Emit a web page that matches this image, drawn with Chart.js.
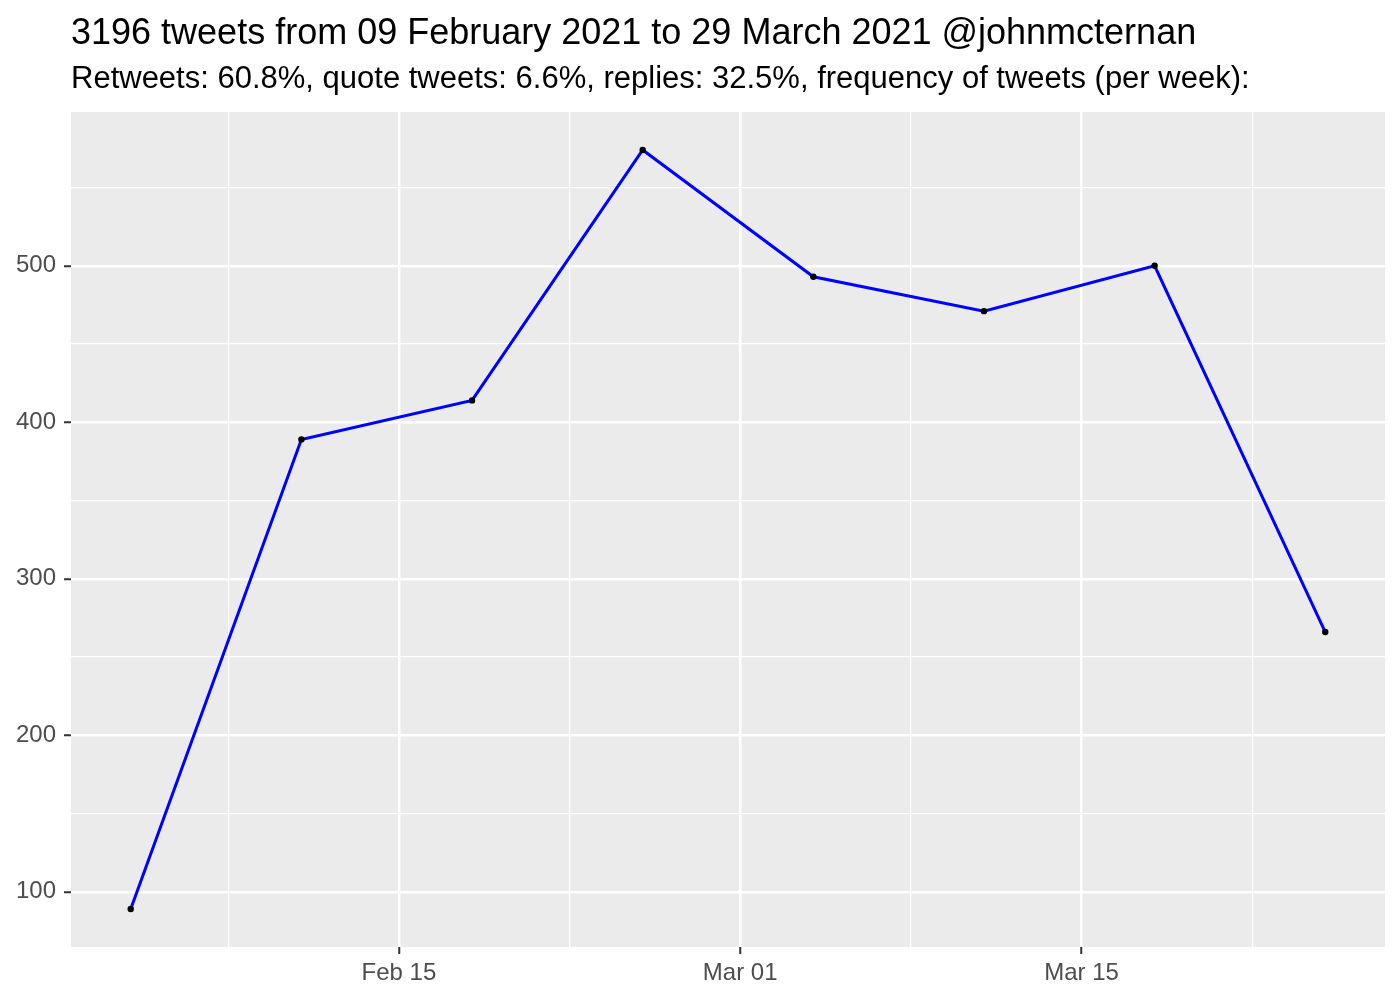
<!DOCTYPE html>
<html>
<head>
<meta charset="utf-8">
<script src="https://cdn.jsdelivr.net/npm/chart.js@4.4.1/dist/chart.umd.min.js"></script>
<style>
  html, body { margin: 0; padding: 0; background: #fff; }
</style>
</head>
<body>
<canvas id="myCanvas" width="1400" height="1000"></canvas>
<script>
var titleText = "3196 tweets from 09 February 2021 to 29 March 2021 @johnmcternan";
var subtitleText = "Retweets: 60.8%, quote tweets: 6.6%, replies: 32.5%, frequency of tweets (per week):";

// weekly tweet counts
var weeks = ["2021-02-04", "2021-02-11", "2021-02-18", "2021-02-25",
             "2021-03-04", "2021-03-11", "2021-03-18", "2021-03-25"];
var tweets = [89, 389, 414, 574, 493, 471, 500, 266];

// axis ticks
var xMajorDates = ["2021-02-15", "2021-03-01", "2021-03-15"];
var xMajorLabels = ["Feb 15", "Mar 01", "Mar 15"];
var xMinorDates = ["2021-02-08", "2021-02-22", "2021-03-08", "2021-03-22"];
var yMajor = [100, 200, 300, 400, 500];
var yMinor = [150, 250, 350, 450, 550];

function dayNum(s) {
  return (Date.parse(s) - Date.parse("2021-01-31")) / 86400000;
}

var points = [];
for (var i in weeks) {
  points.push({ x: dayNum(weeks[i]), y: tweets[i] });
}

var xMajor = xMajorDates.map(dayNum);
var xMinor = xMinorDates.map(dayNum);

// ggplot style 5% expansion
var xs = points.map(function (p) { return p.x; });
var xLo = Math.min.apply(null, xs), xHi = Math.max.apply(null, xs);
var yLo = Math.min.apply(null, tweets), yHi = Math.max.apply(null, tweets);
var xPad = (xHi - xLo) * 0.05, yPad = (yHi - yLo) * 0.05;

var panelBg = {
  id: "panelBg",
  beforeDraw: function (chart) {
    var a = chart.chartArea, c = chart.ctx;
    c.save();
    c.fillStyle = "#EBEBEB";
    c.fillRect(a.left, a.top, a.right - a.left, a.bottom - a.top);
    c.restore();
  }
};

var titles = {
  id: "titles",
  afterDraw: function (chart) {
    var c = chart.ctx, left = chart.chartArea.left;
    c.save();
    c.fillStyle = "#000";
    c.textAlign = "left";
    c.textBaseline = "alphabetic";
    c.font = '36px "Liberation Sans", Arial, sans-serif';
    c.fillText(titleText, left, 44);
    c.font = '31px "Liberation Sans", Arial, sans-serif';
    c.fillText(subtitleText, left, 88);
    c.restore();
  }
};

function isIn(arr, v) {
  for (var k = 0; k < arr.length; k++) if (Math.abs(arr[k] - v) < 1e-6) return k;
  return -1;
}

var ctx = document.getElementById("myCanvas");

var chart = new Chart(ctx, {
  type: "line",
  data: {
    datasets: [
      {
        data: points,
        borderColor: "#0000FF",
        borderWidth: 3,
        tension: 0,
        fill: false,
        pointRadius: 3.2,
        pointBackgroundColor: "#000",
        pointBorderWidth: 0
      }
    ]
  },
  options: {
    responsive: false,
    animation: false,
    devicePixelRatio: 1,
    layout: { padding: { top: 112, right: 15, left: 0, bottom: 0 } },
    plugins: {
      legend: { display: false },
      tooltip: { enabled: false }
    },
    scales: {
      x: {
        type: "linear",
        min: xLo - xPad,
        max: xHi + xPad,
        afterFit: function (scale) { scale.height = 53; },
        afterBuildTicks: function (scale) {
          scale.ticks = xMajor.concat(xMinor).sort(function (a, b) { return a - b; })
            .map(function (v) { return { value: v }; });
        },
        border: { display: false },
        grid: {
          color: "#FFFFFF",
          lineWidth: function (c) { return isIn(xMajor, c.tick.value) >= 0 ? 2.5 : 1.2; },
          tickColor: function (c) { return isIn(xMajor, c.tick.value) >= 0 ? "#333333" : "rgba(0,0,0,0)"; },
          tickLength: 7,
          tickWidth: 2
        },
        ticks: {
          autoSkip: false,
          maxRotation: 0,
          padding: 5,
          color: "#4D4D4D",
          font: { family: "Liberation Sans", size: 24 },
          callback: function (v) {
            var k = isIn(xMajor, v);
            return k >= 0 ? xMajorLabels[k] : "";
          }
        }
      },
      y: {
        type: "linear",
        min: yLo - yPad,
        max: yHi + yPad,
        afterFit: function (scale) { scale.width = 71; },
        afterBuildTicks: function (scale) {
          scale.ticks = yMajor.concat(yMinor).sort(function (a, b) { return a - b; })
            .map(function (v) { return { value: v }; });
        },
        border: { display: false },
        grid: {
          color: "#FFFFFF",
          lineWidth: function (c) { return isIn(yMajor, c.tick.value) >= 0 ? 2.5 : 1.2; },
          tickColor: function (c) { return isIn(yMajor, c.tick.value) >= 0 ? "#333333" : "rgba(0,0,0,0)"; },
          tickLength: 7,
          tickWidth: 2
        },
        ticks: {
          autoSkip: false,
          padding: 8,
          color: "#4D4D4D",
          font: { family: "Liberation Sans", size: 24 },
          callback: function (v) {
            return isIn(yMajor, v) >= 0 ? String(v) : "";
          }
        }
      }
    }
  },
  plugins: [panelBg, titles]
});
</script>
</body>
</html>
